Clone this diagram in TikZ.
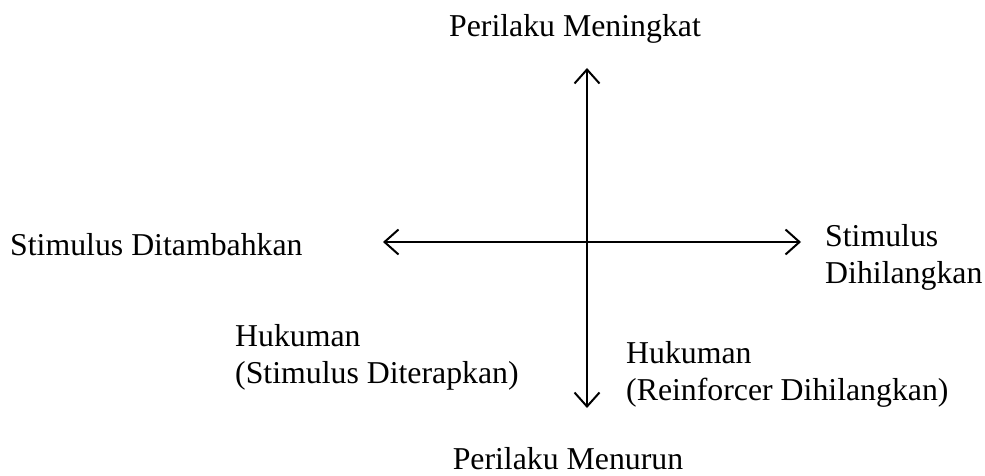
\documentclass[tikz,border=0pt]{standalone}
\usepackage{fontspec}
\setmainfont{Liberation Serif}
\usetikzlibrary{arrows.meta}
\begin{document}
\begin{tikzpicture}[x=1pt,y=-1pt,
  axis/.style={line width=2pt, -{Straight Barb[length=14pt,width=25pt,line width=2pt]}},
  lbl/.style={font=\fontsize{31.8}{37}\selectfont, inner sep=0pt, align=left}]
  \useasboundingbox (0,0) rectangle (985,476);
  % axis ends
  \coordinate (o) at (587,242);
  \coordinate (top) at (587,68);
  \coordinate (bot) at (587,408);
  \coordinate (lft) at (383,242);
  \coordinate (rgt) at (801,242);
  \draw[axis] (o) -- (top);
  \draw[axis] (o) -- (bot);
  \draw[axis] (o) -- (lft);
  \draw[axis] (o) -- (rgt);
  % labels (positions are baselines of the last line)
  \node[lbl, anchor=base] (up) at (575,37) {Perilaku Meningkat};
  \node[lbl, anchor=base] (down) at (568,469) {Perilaku Menurun};
  \node[lbl, anchor=base west] (add) at (10,255) {Stimulus Ditambahkan};
  \node[lbl, anchor=base west] (rem) at (825,283) {Stimulus\\Dihilangkan};
  \node[lbl, anchor=base west] (pos) at (235,383) {Hukuman\\(Stimulus Diterapkan)};
  \node[lbl, anchor=base west] (neg) at (626,400) {Hukuman\\(Reinforcer Dihilangkan)};
\end{tikzpicture}
\end{document}
